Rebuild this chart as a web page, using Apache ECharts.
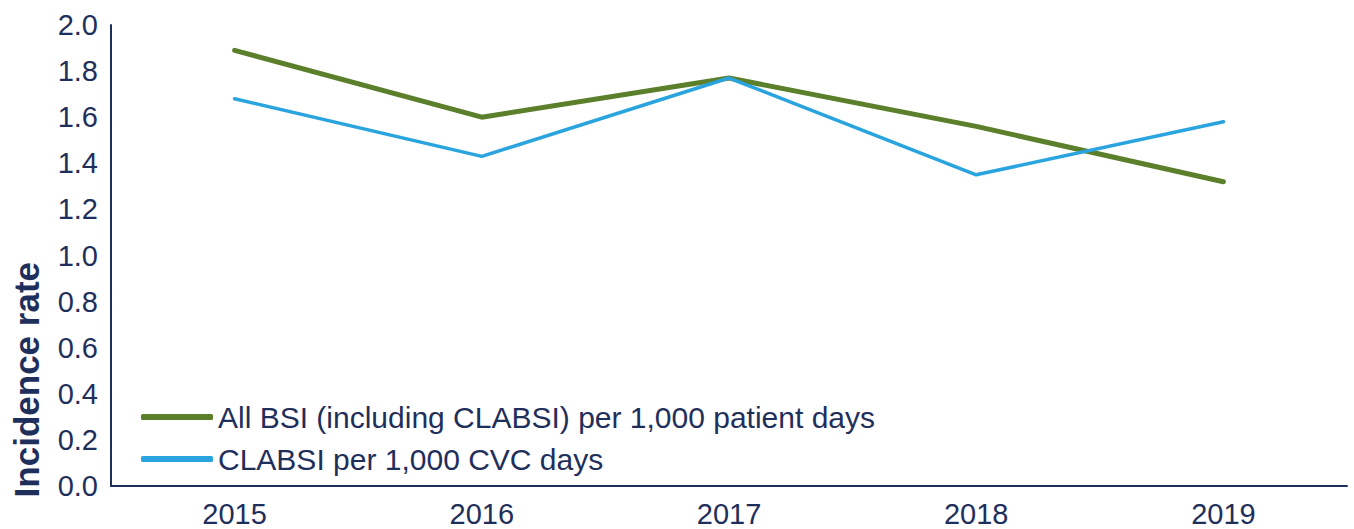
<!DOCTYPE html>
<html>
<head>
<meta charset="utf-8">
<script src="https://cdn.jsdelivr.net/npm/echarts@6/dist/echarts.min.js"></script>
<style>
  html, body { margin: 0; padding: 0; background: #fff; }
  #chart { width: 1354px; height: 529px; }
</style>
</head>
<body>
<div id="chart"></div>
<script>
var years = ['2015', '2016', '2017', '2018', '2019'];
var allBsi = [1.89, 1.60, 1.77, 1.56, 1.32];
var clabsi = [1.68, 1.43, 1.77, 1.35, 1.58];
var yTicks = ['0.0', '0.2', '0.4', '0.6', '0.8', '1.0', '1.2', '1.4', '1.6', '1.8', '2.0'];

var navy = '#1f2f5c';
var font = 'Liberation Sans, Arial, sans-serif';

var myChart = echarts.init(document.getElementById('chart'), null, { renderer: 'svg' });
var option = {
  color: ['#5b7f2b', '#2aa4de'],
  animation: false,
  grid: { left: 111, right: 7, top: 25, bottom: 43 },
  legend: {
    orient: 'vertical',
    left: 136,
    top: 397,
    itemWidth: 72,
    itemHeight: 6,
    itemGap: 12,
    textStyle: { color: navy, fontSize: 30, fontFamily: font },
    data: [
      { name: 'All BSI (including CLABSI) per 1,000 patient days', icon: 'roundRect', itemStyle: { color: '#5b7f2b' } },
      { name: 'CLABSI per 1,000 CVC days', icon: 'roundRect', itemStyle: { color: '#2aa4de' } }
    ]
  },
  graphic: [{
    type: 'text',
    left: 9,
    top: 262,
    rotation: Math.PI / 2,
    style: {
      text: 'Incidence rate',
      fill: navy,
      font: 'bold 35px ' + font
    }
  }],
  xAxis: {
    type: 'category',
    boundaryGap: true,
    data: years,
    axisLine: { lineStyle: { color: navy, width: 2 } },
    axisTick: { show: false },
    axisLabel: { color: navy, fontSize: 29, fontFamily: font, margin: 13 }
  },
  yAxis: {
    type: 'value',
    min: 0,
    max: 2,
    interval: 0.2,
    axisLine: { show: true, lineStyle: { color: navy, width: 2 } },
    axisTick: { show: false },
    splitLine: { show: false },
    axisLabel: {
      color: navy, fontSize: 29, fontFamily: font, margin: 13,
      formatter: function (v) { return yTicks[Math.round(v / 0.2)]; }
    }
  },
  series: [
    {
      name: 'All BSI (including CLABSI) per 1,000 patient days',
      type: 'line',
      data: allBsi,
      symbol: 'none',
      lineStyle: { width: 5, cap: 'round' }
    },
    {
      name: 'CLABSI per 1,000 CVC days',
      type: 'line',
      data: clabsi,
      symbol: 'none',
      lineStyle: { width: 3.5, cap: 'round' }
    }
  ]
};
myChart.setOption(option);
</script>
</body>
</html>
